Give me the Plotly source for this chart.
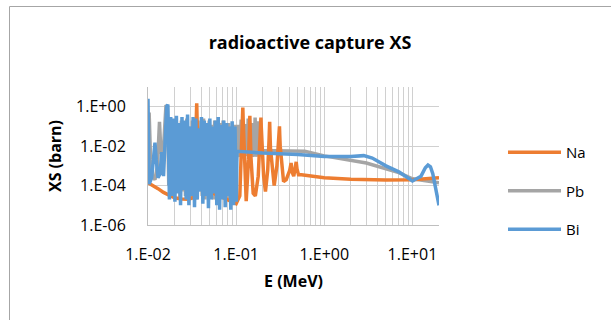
import plotly.graph_objects as go

# ---------------- data ----------------
na_e = [0.0100, 0.0115, 0.0130, 0.0150, 0.0170, 0.0200, 0.0240, 0.0290, 0.0330, 0.0345,
        0.0352, 0.0357, 0.0362, 0.0370, 0.0400, 0.0500, 0.0700, 0.0900, 0.1000, 0.1100,
        0.1150, 0.1175, 0.1190, 0.1205, 0.1230, 0.1300, 0.1380, 0.1415, 0.1430, 0.1445,
        0.1470, 0.1560, 0.1650, 0.1780, 0.1860, 0.1890, 0.1910, 0.1930, 0.1960, 0.2050,
        0.2150, 0.2280, 0.2360, 0.2385, 0.2400, 0.2415, 0.2450, 0.2580, 0.2700, 0.2900,
        0.3050, 0.3080, 0.3100, 0.3120, 0.3160, 0.3300, 0.3450, 0.3700, 0.4050, 0.4200,
        0.4300, 0.4500, 0.4700, 0.4800, 0.4900, 0.5100, 0.5500, 0.7000, 1.0, 2.0,
        3.0, 5.0, 10.0, 15.0, 20.0]
na_xs = [1.4e-4, 1.0e-4, 7e-5, 4.5e-5, 3.3e-5, 2.4e-5, 2.1e-5, 2.0e-5, 2.5e-5, 5e-4,
         0.15, 1.5, 0.1, 2e-3, 1.5e-4, 5e-5, 2.5e-5, 1.5e-5, 1.2e-5, 3e-5,
         5e-3, 0.2, 0.9, 0.15, 5e-3, 1.6e-5, 2e-3, 0.08, 0.35, 0.06,
         3e-3, 4e-5, 3e-5, 3e-4, 2e-2, 0.1, 0.28, 0.08, 1e-2, 3e-4,
         5e-5, 6e-4, 2e-2, 0.08, 0.17, 0.06, 8e-3, 4e-4, 1e-4, 1e-3,
         2e-2, 0.05, 0.1, 0.04, 1e-2, 8e-4, 1.6e-4, 2e-4, 6e-4, 1.4e-3,
         5e-4, 3e-4, 8e-4, 1.6e-3, 7e-4, 3.5e-4, 3.5e-4, 3e-4, 2.5e-4, 2.1e-4,
         2.0e-4, 1.9e-4, 2.0e-4, 2.2e-4, 2.5e-4]

pb_e = [0.0100, 0.0103, 0.0107, 0.0112, 0.0120, 0.0128, 0.0135, 0.0140, 0.0148, 0.0155,
        0.0160, 0.0166, 0.0172,
        0.0178, 0.0185, 0.0192, 0.0199, 0.0206, 0.0214, 0.0222, 0.0230, 0.0239, 0.0248,
        0.0257, 0.0266, 0.0276, 0.0286, 0.0297, 0.0308, 0.0319, 0.0331, 0.0343, 0.0356,
        0.0369, 0.0383, 0.0397, 0.0412, 0.0427, 0.0443, 0.0459, 0.0476, 0.0494, 0.0512,
        0.0531, 0.0551, 0.0571, 0.0592, 0.0615, 0.0638, 0.0661, 0.0686, 0.0711, 0.0737,
        0.0765, 0.0793, 0.0823, 0.0853, 0.0885, 0.0918, 0.0952, 0.0985,
        0.1010, 0.1040, 0.1070, 0.1100, 0.1140, 0.1170, 0.1210, 0.1250, 0.1290, 0.1330,
        0.1370, 0.1410, 0.1450, 0.1500, 0.1550, 0.1600, 0.1640, 0.1690, 0.1740, 0.1790,
        0.1840, 0.1900, 0.2500, 0.4000, 0.6000, 1.0, 3.0, 7.0, 10.0, 20.0]
pb_xs = [0.35, 0.5, 2e-3, 3e-4, 2e-4, 1e-3, 0.17, 5e-3, 3e-3, 0.05,
         1.2, 1.0, 1e-4,
         0.2, 5e-5, 0.15, 3e-5, 0.2, 6e-5, 0.1, 2e-5, 0.2, 5e-5,
         0.15, 3e-5, 0.25, 5e-5, 0.1, 2e-5, 0.2, 4e-5, 0.15, 2e-5,
         0.2, 5e-5, 0.1, 3e-5, 0.25, 2e-5, 0.15, 5e-5, 0.2, 3e-5,
         0.12, 2e-5, 0.2, 4e-5, 0.1, 2e-5, 0.15, 5e-5, 0.2, 3e-5,
         0.12, 2e-5, 0.15, 4e-5, 0.1, 2e-5, 0.12, 3e-4,
         3e-3, 0.12, 4e-3, 3e-3, 0.22, 5e-3, 3e-3, 0.13, 4e-3, 3.5e-3,
         0.25, 6e-3, 3e-3, 0.15, 4e-3, 3e-3, 0.28, 5e-3, 3e-3, 0.18,
         4e-3, 6e-3, 6e-3, 6e-3, 5.5e-3, 3.2e-3, 1.4e-3, 4.5e-4, 2.2e-4, 1.4e-4]

bi_e = [0.0100, 0.0101, 0.0103, 0.0110, 0.0116, 0.0120, 0.0124, 0.0130, 0.0137, 0.0143,
        0.0150, 0.0157, 0.0163, 0.0168, 0.0172,
        0.0175, 0.0181, 0.0188, 0.0195, 0.0202, 0.0210, 0.0218, 0.0226, 0.0234, 0.0243,
        0.0252, 0.0261, 0.0271, 0.0281, 0.0291, 0.0302, 0.0313, 0.0325, 0.0337, 0.0349,
        0.0362, 0.0376, 0.0390, 0.0404, 0.0419, 0.0435, 0.0451, 0.0467, 0.0485, 0.0503,
        0.0521, 0.0541, 0.0561, 0.0582, 0.0603, 0.0626, 0.0649, 0.0673, 0.0698, 0.0724,
        0.0751, 0.0779, 0.0808, 0.0838, 0.0869, 0.0901, 0.0935, 0.0970, 0.1005,
        0.1020, 0.2000, 0.5000, 1.0, 2.0, 2.8, 3.5, 5.0, 7.0, 10.0,
        12.5, 14.0, 15.0, 16.0, 17.0, 18.5, 20.0]
bi_xs = [2.5, 0.3, 1.2e-4, 2.5e-4, 2e-3, 1.5e-2, 2e-3, 2.5e-4, 4e-4, 5e-3,
         3e-4, 0.05, 1.0, 1.3, 3e-3,
         2e-5, 0.3, 3e-5, 0.25, 1.5e-5, 0.35, 4e-5, 0.15, 1e-5, 0.3,
         6e-5, 0.2, 2e-5, 0.4, 1e-5, 0.1, 3e-5, 0.3, 8e-6, 0.25,
         2e-5, 0.08, 5e-5, 0.3, 1.2e-5, 0.2, 3e-5, 0.15, 7e-6, 0.25,
         2e-5, 0.1, 4e-5, 0.2, 1e-5, 0.3, 6e-6, 0.12, 2e-5, 0.2,
         8e-6, 0.15, 3e-5, 0.1, 6e-6, 0.18, 1e-5, 0.1, 1.5e-5,
         5.5e-3, 4.5e-3, 3.8e-3, 3.0e-3, 3.0e-3, 3.3e-3, 2.5e-3, 1e-3, 5e-4, 1.7e-4,
         3e-4, 8e-4, 1.1e-3, 9e-4, 4e-4, 6e-5, 1e-5]

x_tickvals = [0.01, 0.1, 1, 10]
x_ticktext = ["1.E-02", "1.E-01", "1.E+00", "1.E+01"]
y_tickvals = [1e-6, 1e-4, 1e-2, 1]
y_ticktext = ["1.E-06", "1.E-04", "1.E-02", "1.E+00"]

# ---------------- layout helpers ----------------
W, H = 611, 320
L, R, T, B = 148, 439, 87, 225
pw, ph = R - L, B - T


def px_x(x):
    return (x - L) / pw


def px_y(y):
    return (B - y) / ph


FONT = "Open Sans"
GRID = "#d0d0d0"
LW = 3.5
minor_vals = [m * 10 ** d for d in range(-2, 2) for m in range(2, 10) if m * 10 ** d <= 20]

fig = go.Figure()
# drawing order: Pb, Na, Bi (legend order kept Na, Pb, Bi via legendrank)
fig.add_trace(go.Scatter(x=pb_e, y=pb_xs, name="Pb", mode="lines", legendrank=2,
                         line=dict(color="#A5A5A5", width=LW), legendgroup="b"))
fig.add_trace(go.Scatter(x=na_e, y=na_xs, name="Na", mode="lines", legendrank=1,
                         line=dict(color="#ED7D31", width=LW), legendgroup="a"))
fig.add_trace(go.Scatter(x=bi_e, y=bi_xs, name="Bi", mode="lines", legendrank=3,
                         line=dict(color="#5B9BD5", width=LW), legendgroup="c"))

fig.update_layout(
    width=W, height=H,
    margin=dict(l=L, r=W - R, t=T, b=H - B, pad=0),
    paper_bgcolor="white", plot_bgcolor="white",
    font=dict(family=FONT, size=15, color="#000000"),
    title=dict(text="<b>radioactive capture XS</b>", font=dict(family=FONT, size=18, color="#000000"),
               x=px_x(310), xref="paper", xanchor="center",
               y=1 - 43 / H, yref="container", yanchor="middle"),
    showlegend=True,
    legend=dict(x=px_x(503), y=px_y(136), xanchor="left", yanchor="top",
                font=dict(family=FONT, size=15, color="#000000"),
                itemwidth=53, tracegroupgap=16, bgcolor="rgba(0,0,0,0)",
                traceorder="grouped"),
    xaxis=dict(type="log", range=[-2, 1.30103], tickmode="array",
               tickvals=x_tickvals, ticktext=x_ticktext,
               tickfont=dict(size=16),
               showgrid=True, gridcolor=GRID, gridwidth=1,
               minor=dict(tickmode="array", tickvals=minor_vals, showgrid=True,
                          gridcolor=GRID, gridwidth=1, ticks=""),
               showline=True, linecolor="#bfbfbf", linewidth=1, mirror=False,
               ticks="", ticklabelstandoff=15, zeroline=False,
               title=dict(text="<b>E (MeV)</b>", font=dict(family=FONT, size=16), standoff=11)),
    yaxis=dict(type="log", range=[-6, 1], tickmode="array",
               tickvals=y_tickvals, ticktext=y_ticktext,
               tickfont=dict(size=16),
               showgrid=True, gridcolor=GRID, gridwidth=1,
               showline=True, linecolor="#bfbfbf", linewidth=1,
               ticks="", ticklabelstandoff=18, zeroline=False,
               title=dict(text="<b>XS (barn)</b>", font=dict(family=FONT, size=16), standoff=10)),
    shapes=[
        dict(type="path", xref="paper", yref="paper",
             path=f"M {px_x(W + 5)},{px_y(6.5)} L {px_x(9.5)},{px_y(6.5)} L {px_x(9.5)},{px_y(H + 5)}",
             line=dict(color="#a6a6a6", width=1)),
    ],
)

fig.write_html("out.html")
